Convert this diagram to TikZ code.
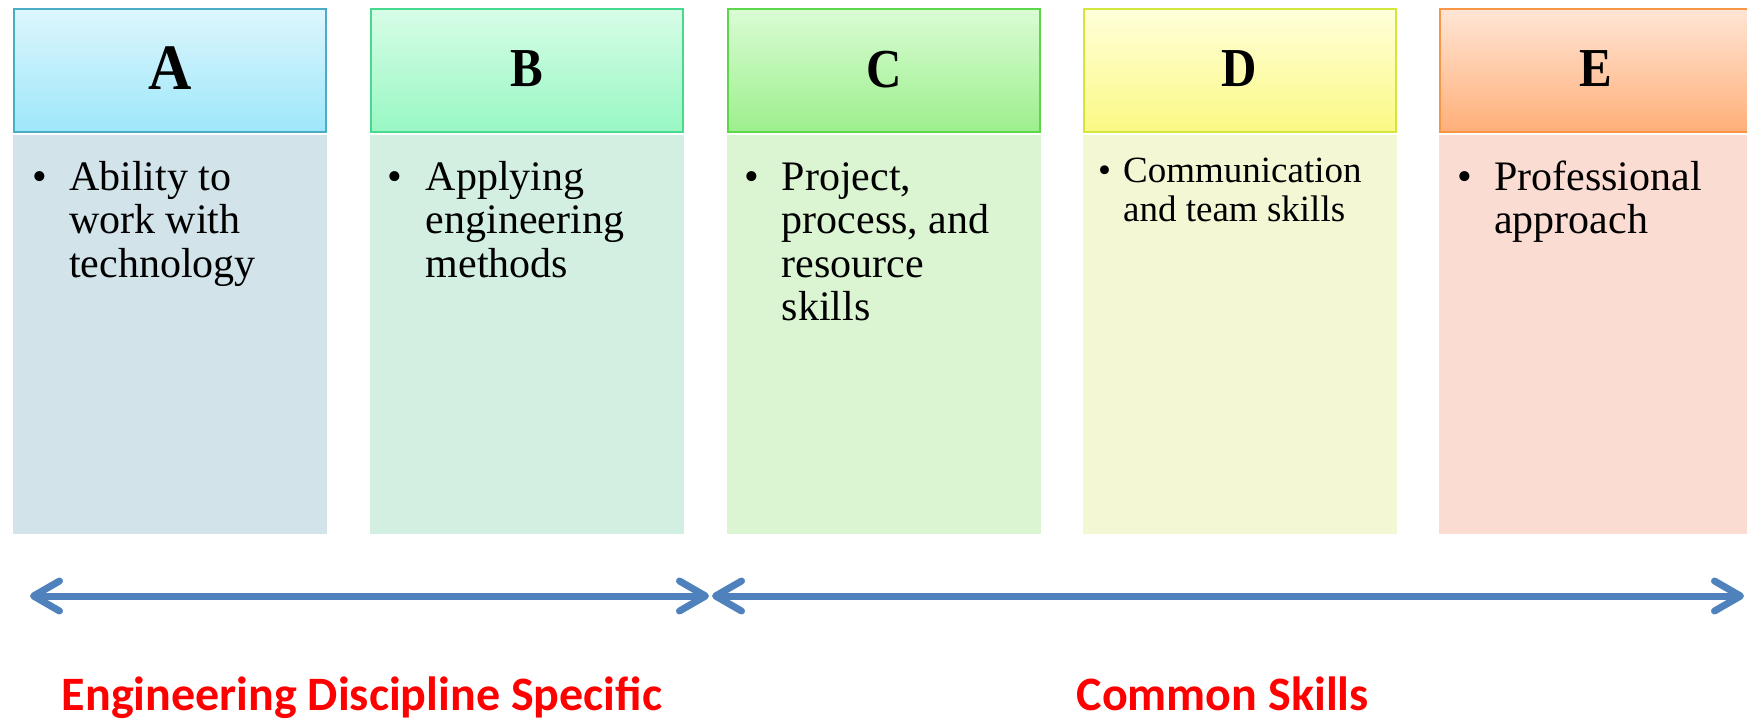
\documentclass[tikz,border=0pt]{standalone}
\usepackage{fontspec}
\setmainfont{Liberation Serif}
\newfontfamily\calib{Carlito}
\usetikzlibrary{arrows.meta}
\definecolor{aTop}{HTML}{DDF6FD}\definecolor{aBot}{HTML}{9DE7FA}\definecolor{aLine}{HTML}{4BACC6}\definecolor{aBody}{HTML}{D2E3EA}
\definecolor{bTop}{HTML}{D7FDE7}\definecolor{bBot}{HTML}{98F7C3}\definecolor{bLine}{HTML}{47D98D}\definecolor{bBody}{HTML}{D2EFE2}
\definecolor{cTop}{HTML}{DAFCD4}\definecolor{cBot}{HTML}{9CEF8C}\definecolor{cLine}{HTML}{5ED64A}\definecolor{cBody}{HTML}{DBF5D3}
\definecolor{dTop}{HTML}{FFFFDA}\definecolor{dBot}{HTML}{FBF983}\definecolor{dLine}{HTML}{D2E63C}\definecolor{dBody}{HTML}{F4F7D3}
\definecolor{eTop}{HTML}{FFE5D5}\definecolor{eBot}{HTML}{FFAF78}\definecolor{eLine}{HTML}{F79646}\definecolor{eBody}{HTML}{FBDCD2}
\definecolor{arrowblue}{HTML}{4F81BD}
\definecolor{labelred}{HTML}{FF0000}
\newcommand{\bulletitem}[2]{\makebox[#1][l]{\textbullet}\begin{tabular}[t]{@{}l@{}}#2\end{tabular}}
\begin{document}
\begin{tikzpicture}[x=1pt,y=-1pt,
  hdr/.style={line width=2pt, minimum width=312pt, minimum height=123pt, inner sep=0pt},
  bodybox/.style={minimum width=314pt, minimum height=399pt, inner sep=0pt, draw=none},
  bodytext/.style={anchor=north west, inner sep=0pt, font=\fontsize{42}{43.5}\selectfont},
  dtext/.style={bodytext, font=\fontsize{37}{38.5}\selectfont},
  letter/.style={anchor=base, inner sep=0pt, font=\bfseries},
  span/.style={draw=arrowblue, line width=7pt, {Straight Barb[length=26pt,width=30pt,round]}-{Straight Barb[length=26pt,width=30pt,round]}},
  redlabel/.style={anchor=base, inner sep=0pt, text=labelred, font=\calib\bfseries\fontsize{48}{48}\selectfont}
]
\useasboundingbox (0,0) rectangle (1747,718);
% bodies
\node[bodybox, fill=aBody] (bA) at (170.4,334.5) {};
\node[bodybox, fill=bBody] (bB) at (526.7,334.5) {};
\node[bodybox, fill=cBody] (bC) at (883.7,334.5) {};
\node[bodybox, fill=dBody] (bD) at (1239.5,334.5) {};
\node[bodybox, fill=eBody] (bE) at (1596,334.5) {};
% headers
\node[hdr, draw=aLine, top color=aTop, bottom color=aBot] (hA) at (170.4,70.8) {};
\node[hdr, draw=bLine, top color=bTop, bottom color=bBot] (hB) at (526.7,70.8) {};
\node[hdr, draw=cLine, top color=cTop, bottom color=cBot] (hC) at (883.7,70.8) {};
\node[hdr, draw=dLine, top color=dTop, bottom color=dBot] (hD) at (1239.5,70.8) {};
\node[hdr, draw=eLine, top color=eTop, bottom color=eBot] (hE) at (1596,70.8) {};
% letters
\node[letter] (lA) at (170.4,89.3) {\scalebox{1}[1.08]{\fontsize{60}{60}\selectfont\bfseries A}};
\node[letter] (lB) at (526.7,86.5) {\scalebox{1}[1.12]{\fontsize{49}{49}\selectfont\bfseries B}};
\node[letter] (lC) at (883.7,87) {\scalebox{1}[1.12]{\fontsize{49}{49}\selectfont\bfseries C}};
\node[letter] (lD) at (1239.5,86.5) {\scalebox{1}[1.12]{\fontsize{49}{49}\selectfont\bfseries D}};
\node[letter] (lE) at (1596,86.5) {\scalebox{1}[1.12]{\fontsize{49}{49}\selectfont\bfseries E}};
% texts
\node[bodytext] (tA) at (32,159.5) {\bulletitem{37pt}{Ability to\\work with\\technology}};
\node[bodytext] (tB) at (387.7,159.5) {\bulletitem{38pt}{Applying\\engineering\\methods}};
\node[bodytext] (tC) at (744.7,159.5) {\bulletitem{37pt}{Project,\\process, and\\resource\\skills}};
\node[dtext] (tD) at (1098,155.7) {\bulletitem{25pt}{Communication\\and team skills}};
\node[bodytext] (tE) at (1457,159.5) {\bulletitem{37pt}{Professional\\approach}};
% spans
\coordinate (s1) at (30,596);
\coordinate (s2) at (709,596);
\coordinate (s3) at (712,596);
\coordinate (s4) at (1744,596);
\draw[span] (s1) -- (s2);
\draw[span] (s3) -- (s4);
% labels
\node[redlabel] (eng) at (362,710) {Engineering Discipline Specific};
\node[redlabel] (com) at (1222.7,710) {Common Skills};
\end{tikzpicture}
\end{document}
